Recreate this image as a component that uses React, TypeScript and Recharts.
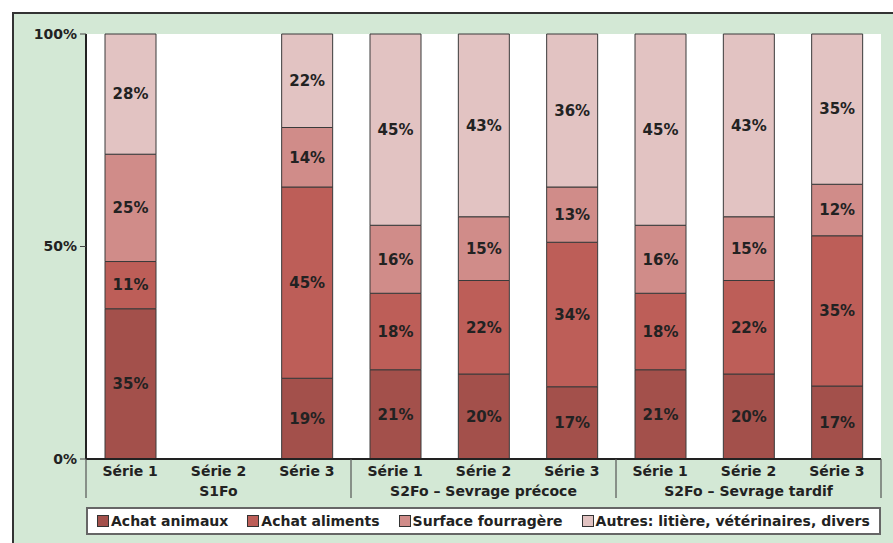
import React from "react";
import {
  BarChart,
  Bar,
  XAxis,
  YAxis,
  Legend,
  LabelList,
  CartesianGrid,
} from "recharts";

const categories = ["Série 1", "Série 2", "Série 3", "Série 1", "Série 2", "Série 3", "Série 1", "Série 2", "Série 3"];
const groups = ["S1Fo", "S2Fo – Sevrage précoce", "S2Fo – Sevrage tardif"];

const achatAnimaux = [35, 0, 19, 21, 20, 17, 21, 20, 17];
const achatAliments = [11, 0, 45, 18, 22, 34, 18, 22, 35];
const surfaceFourragere = [25, 0, 14, 16, 15, 13, 16, 15, 12];
const autres = [28, 0, 22, 45, 43, 36, 45, 43, 35];

const yTicks = [0, 0.5, 1];

const series = [
  { key: "animaux", name: "Achat animaux", color: "#a3504b" },
  { key: "aliments", name: "Achat aliments", color: "#bd5e58" },
  { key: "surface", name: "Surface fourragère", color: "#d08c89" },
  { key: "autres", name: "Autres: litière, vétérinaires, divers", color: "#e2c3c2" },
];

const data = categories.map((c, i) => ({
  id: i,
  serie: c,
  animaux: achatAnimaux[i],
  aliments: achatAliments[i],
  surface: surfaceFourragere[i],
  autres: autres[i],
}));

const W = 893;
const H = 543;
const M = { top: 34, right: 12, left: 0, bottom: 44 };
const Y_AXIS_W = 86;
const BAND = (W - Y_AXIS_W - M.right) / categories.length;
const FONT = "'DejaVu Sans', Verdana, sans-serif";
const FS = 14;

function XTick(props: any) {
  const { x, y, payload } = props;
  const i = payload.value as number;
  return (
    <g>
      <text x={x} y={y + 17} textAnchor="middle" fontFamily={FONT} fontWeight="bold" fontSize={FS} fill="#222">
        {categories[i]}
      </text>
      {i % 3 === 1 && (
        <text x={x} y={y + 37} textAnchor="middle" fontFamily={FONT} fontWeight="bold" fontSize={FS} fill="#222">
          {groups[Math.floor(i / 3)]}
        </text>
      )}
      {i % 3 === 0 && <line x1={x - BAND / 2} x2={x - BAND / 2} y1={y} y2={y + 39} stroke="#555" strokeWidth={1.2} />}
      {i === categories.length - 1 && (
        <line x1={x + BAND / 2} x2={x + BAND / 2} y1={y} y2={y + 39} stroke="#555" strokeWidth={1.2} />
      )}
    </g>
  );
}

// legend drawn in the series order, not the sorted payload order
function LegendBox() {
  return (
    <div
      style={{
        boxSizing: "border-box",
        width: W - Y_AXIS_W - M.right,
        height: 28,
        border: "2px solid #666",
        background: "#fff",
        display: "flex",
        alignItems: "center",
        paddingLeft: 9,
        gap: 19,
        fontFamily: FONT,
        fontWeight: "bold",
        fontSize: FS,
        color: "#222",
      }}
    >
      {series.map((s) => (
        <div key={s.key} style={{ display: "flex", alignItems: "center" }}>
          <span
            style={{
              display: "inline-block",
              width: 10,
              height: 10,
              background: s.color,
              border: "1px solid #333",
              marginRight: 2,
            }}
          />
          <span>{s.name}</span>
        </div>
      ))}
    </div>
  );
}

const pct = (v: any) => (v ? `${v}%` : "");

export default function App() {
  return (
    <div style={{ position: "absolute", left: 0, top: 0, width: W, height: H, background: "#fff", overflow: "hidden" }}>
      <div
        style={{
          position: "absolute",
          left: 12,
          top: 12,
          width: W,
          height: H + 40,
          background: "#d3e8d5",
          border: "2px solid #333",
          boxSizing: "border-box",
        }}
      />
      <div style={{ position: "absolute", left: 0, top: 0 }}>
        <BarChart width={W} height={H} data={data} margin={M} stackOffset="expand" barSize={51}>
          <CartesianGrid fill="#fff" horizontal={false} vertical={false} stroke="none" />
          <XAxis
            dataKey="id"
            type="category"
            height={40}
            tick={<XTick />}
            tickLine={false}
            tickSize={0}
            tickMargin={0}
            interval={0}
            axisLine={{ stroke: "#222", strokeWidth: 2 }}
          />
          <XAxis xAxisId="top" orientation="top" dataKey="id" height={0} tick={false} tickLine={false} axisLine={{ stroke: "#222", strokeWidth: 2 }} />
          <YAxis
            type="number"
            domain={[0, 1]}
            ticks={yTicks}
            width={Y_AXIS_W}
            tickFormatter={(v: number) => `${Math.round(v * 100)}%`}
            tick={{ fontFamily: FONT, fontWeight: "bold", fontSize: FS, fill: "#222" }}
            tickSize={6}
            tickMargin={3}
            tickLine={{ stroke: "#444" }}
            axisLine={{ stroke: "#222", strokeWidth: 2 }}
          />
          <YAxis yAxisId="right" orientation="right" width={0} domain={[0, 1]} tick={false} tickLine={false} axisLine={{ stroke: "#222", strokeWidth: 2 }} />
          <Legend
            layout="horizontal"
            verticalAlign="middle"
            align="center"
            content={<LegendBox />}
            wrapperStyle={{ position: "absolute", left: Y_AXIS_W, top: 507, width: W - Y_AXIS_W - M.right }}
          />
          {series.map((s) => (
            <Bar
              key={s.key}
              dataKey={s.key}
              name={s.name}
              stackId="a"
              fill={s.color}
              stroke="#3a3a3a"
              strokeWidth={1}
              isAnimationActive={false}
            >
              <LabelList
                dataKey={s.key}
                position="center"
                formatter={pct}
                style={{ fontFamily: FONT, fontWeight: "bold", fontSize: 15, fill: "#222" }}
              />
            </Bar>
          ))}
        </BarChart>
      </div>
    </div>
  );
}
